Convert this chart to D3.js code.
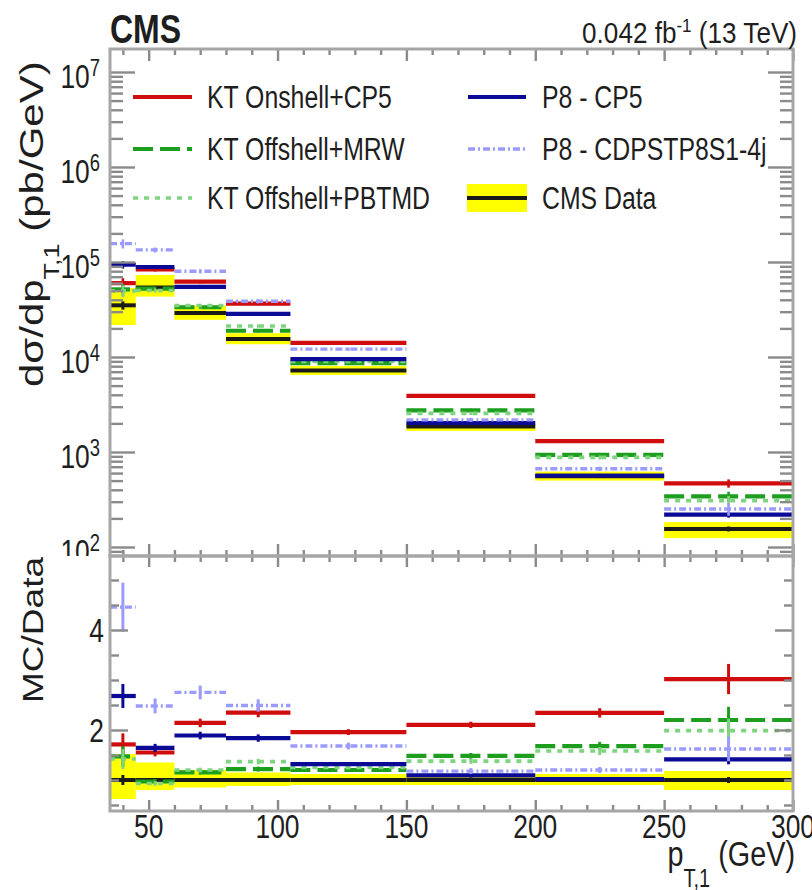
<!DOCTYPE html>
<html>
<head>
<meta charset="utf-8">
<title>Leading jet pT cross section</title>
<script src="https://cdn.jsdelivr.net/npm/d3@7/dist/d3.min.js"></script>
<style>
  html, body { margin: 0; padding: 0; background: #ffffff; }
  svg { display: block; }
  text { font-family: "Liberation Sans", Arial, Helvetica, sans-serif; fill: #1e1e1e; }
</style>
</head>
<body>
<div id="chart"></div>
<script>
// ---------------- bins and measurement ----------------
const binEdges    = [35, 45, 60, 80, 105, 150, 200, 250, 300];             // GeV
const dataXsec    = [3.5e4, 5.4e4, 2.9e4, 1.55e4, 7.2e3, 1.85e3, 555, 155]; // pb/GeV
const dataUncUp   = [0.52, 0.35, 0.20, 0.15, 0.12, 0.12, 0.12, 0.18];      // relative, total
const dataUncDown = [0.38, 0.20, 0.15, 0.12, 0.10, 0.10, 0.10, 0.20];
const dataStat    = [0.10, 0.04, 0.03, 0.03, 0.03, 0.03, 0.04, 0.06];      // relative, stat.

// ---------------- predictions (pb/GeV) ----------------
const ktOnshellCP5    = [5.99e4, 8.37e4, 6.21e4, 3.64e4, 1.41e4, 3.89e3, 1.30e3, 468];
const ktOffshellMRW   = [5.15e4, 5.24e4, 3.34e4, 1.89e4, 8.64e3, 2.74e3, 932, 341];
const ktOffshellPBTMD = [4.97e4, 5.02e4, 3.48e4, 2.12e4, 9.0e3, 2.55e3, 877, 308];
const p8CP5           = [9.38e4, 8.86e4, 5.48e4, 2.85e4, 9.5e3, 2.02e3, 566, 219];
const p8CDPS          = [1.56e5, 1.34e5, 7.98e4, 3.86e4, 1.21e4, 2.18e3, 666, 251];

// relative statistical uncertainties of the predictions
const errKtOnshellCP5    = [0.13, 0.05, 0.04, 0.04, 0.03, 0.03, 0.04, 0.10];
const errKtOffshellMRW   = [0.14, 0.05, 0.04, 0.04, 0.03, 0.04, 0.05, 0.12];
const errKtOffshellPBTMD = [0.14, 0.05, 0.04, 0.04, 0.03, 0.04, 0.05, 0.12];
const errP8CP5           = [0.09, 0.05, 0.04, 0.04, 0.03, 0.04, 0.04, 0.07];
const errP8CDPS          = [0.11, 0.06, 0.05, 0.05, 0.04, 0.05, 0.05, 0.15];

// ---------------- ticks and labels ----------------
const xTickLabels     = [50, 100, 150, 200, 250, 300];
const topExponents    = [2, 3, 4, 5, 6, 7];
const ratioTickLabels = [2, 4];
const legendLeft  = ["KT Onshell+CP5", "KT Offshell+MRW", "KT Offshell+PBTMD"];
const legendRight = ["P8 - CP5", "P8 - CDPSTP8S1-4j", "CMS Data"];

// ---------------- layout ----------------
const W = 812, H = 890;
const F = { left: 110, right: 793, top: 49, mid: 556, bottom: 811 };
const SX = 0.8;   // horizontal squeeze of the lettering

const svg = d3.select("#chart").append("svg").attr("width", W).attr("height", H);
const defs = svg.append("defs");
defs.append("clipPath").attr("id", "clipTop").append("rect")
  .attr("x", F.left).attr("y", F.top).attr("width", F.right - F.left).attr("height", F.mid - F.top);
defs.append("clipPath").attr("id", "clipRatio").append("rect")
  .attr("x", F.left).attr("y", F.mid).attr("width", F.right - F.left).attr("height", F.bottom - F.mid);
defs.append("clipPath").attr("id", "clipTopPad").append("rect")
  .attr("x", 0).attr("y", 0).attr("width", W).attr("height", F.mid);

const x = d3.scaleLinear().domain([35, 300]).range([F.left, F.right]);
const yTop = d3.scaleLog().domain([80.4, 1.746e7]).range([F.mid, F.top]);
const yRat = d3.scaleLinear().domain([0.38, 5.48]).range([F.bottom, F.mid]);

const bins = d3.range(dataXsec.length).map(i => ({ i, lo: binEdges[i], hi: binEdges[i + 1], c: (binEdges[i] + binEdges[i + 1]) / 2 }));

const series = [
  { name: legendLeft[0],  vals: ktOnshellCP5,    err: errKtOnshellCP5,    color: "#cf0d0d", dash: null,          w: 4.2 },
  { name: legendLeft[1],  vals: ktOffshellMRW,   err: errKtOffshellMRW,   color: "#1e9e1e", dash: "20,7",        w: 4.2 },
  { name: legendLeft[2],  vals: ktOffshellPBTMD, err: errKtOffshellPBTMD, color: "#7fd47f", dash: "5,6",         w: 3.6 },
  { name: legendRight[0], vals: p8CP5,           err: errP8CP5,           color: "#0a0a96", dash: null,          w: 4.2 },
  { name: legendRight[1], vals: p8CDPS,          err: errP8CDPS,          color: "#9a9aff", dash: "7,3,2,3",     w: 3.4 }
];

// ---------------- helpers ----------------
function hText(parent, px, py, size, anchor, opts = {}) {
  const g = parent.append("g").attr("transform", `translate(${px},${py}) scale(${opts.sx || SX},1)`);
  const t = g.append("text").attr("font-size", size).attr("text-anchor", anchor);
  if (opts.bold) t.attr("font-weight", "bold");
  return t;
}
function vText(parent, px, py, size, anchor) {
  const g = parent.append("g").attr("transform", `translate(${px},${py}) rotate(-90) scale(1,${SX})`);
  return g.append("text").attr("font-size", size).attr("text-anchor", anchor);
}
function styleAxis(sel, color, width) {
  sel.select(".domain").remove();
  sel.selectAll(".tick line").attr("stroke", color).attr("stroke-width", width);
  sel.selectAll(".tick text").remove();
}

// ---------------- top panel: cross sections ----------------
const topData = svg.append("g").attr("clip-path", "url(#clipTop)");

// data uncertainty band
topData.selectAll("rect.band").data(bins).join("rect").attr("class", "band")
  .attr("x", d => x(d.lo)).attr("width", d => x(d.hi) - x(d.lo))
  .attr("y", d => yTop(dataXsec[d.i] * (1 + dataUncUp[d.i])))
  .attr("height", d => yTop(dataXsec[d.i] * (1 - dataUncDown[d.i])) - yTop(dataXsec[d.i] * (1 + dataUncUp[d.i])))
  .attr("fill", "#ffff00");
topData.selectAll("line.dataH").data(bins).join("line").attr("class", "dataH")
  .attr("x1", d => x(d.lo)).attr("x2", d => x(d.hi))
  .attr("y1", d => yTop(dataXsec[d.i])).attr("y2", d => yTop(dataXsec[d.i]))
  .attr("stroke", "#1a1a1a").attr("stroke-width", 4);
topData.selectAll("line.dataV").data(bins).join("line").attr("class", "dataV")
  .attr("x1", d => x(d.c)).attr("x2", d => x(d.c))
  .attr("y1", d => yTop(dataXsec[d.i] * (1 + dataStat[d.i]))).attr("y2", d => yTop(dataXsec[d.i] * (1 - dataStat[d.i])))
  .attr("stroke", "#1a1a1a").attr("stroke-width", 3);

series.forEach(s => {
  const g = topData.append("g");
  g.selectAll("line.h").data(bins).join("line").attr("class", "h")
    .attr("x1", d => x(d.lo)).attr("x2", d => x(d.hi))
    .attr("y1", d => yTop(s.vals[d.i])).attr("y2", d => yTop(s.vals[d.i]))
    .attr("stroke", s.color).attr("stroke-width", s.w)
    .attr("stroke-dasharray", s.dash);
  g.selectAll("line.v").data(bins).join("line").attr("class", "v")
    .attr("x1", d => x(d.c)).attr("x2", d => x(d.c))
    .attr("y1", d => yTop(s.vals[d.i] * (1 + s.err[d.i]))).attr("y2", d => yTop(s.vals[d.i] * (1 - s.err[d.i])))
    .attr("stroke", s.color).attr("stroke-width", 2.6);
});

// ---------------- bottom panel: MC / Data ----------------
const ratData = svg.append("g").attr("clip-path", "url(#clipRatio)");
ratData.selectAll("rect.band").data(bins).join("rect").attr("class", "band")
  .attr("x", d => x(d.lo)).attr("width", d => x(d.hi) - x(d.lo))
  .attr("y", d => yRat(1 + dataUncUp[d.i]))
  .attr("height", d => yRat(1 - dataUncDown[d.i]) - yRat(1 + dataUncUp[d.i]))
  .attr("fill", "#ffff00");
ratData.selectAll("line.dataH").data(bins).join("line").attr("class", "dataH")
  .attr("x1", d => x(d.lo)).attr("x2", d => x(d.hi))
  .attr("y1", yRat(1)).attr("y2", yRat(1))
  .attr("stroke", "#1a1a1a").attr("stroke-width", 4);
ratData.selectAll("line.dataV").data(bins).join("line").attr("class", "dataV")
  .attr("x1", d => x(d.c)).attr("x2", d => x(d.c))
  .attr("y1", d => yRat(1 + dataStat[d.i])).attr("y2", d => yRat(1 - dataStat[d.i]))
  .attr("stroke", "#1a1a1a").attr("stroke-width", 3);

series.forEach(s => {
  const g = ratData.append("g");
  const r = i => s.vals[i] / dataXsec[i];
  g.selectAll("line.h").data(bins).join("line").attr("class", "h")
    .attr("x1", d => x(d.lo)).attr("x2", d => x(d.hi))
    .attr("y1", d => yRat(r(d.i))).attr("y2", d => yRat(r(d.i)))
    .attr("stroke", s.color).attr("stroke-width", s.w)
    .attr("stroke-dasharray", s.dash);
  g.selectAll("line.v").data(bins).join("line").attr("class", "v")
    .attr("x1", d => x(d.c)).attr("x2", d => x(d.c))
    .attr("y1", d => yRat(r(d.i) * (1 + s.err[d.i]))).attr("y2", d => yRat(r(d.i) * (1 - s.err[d.i])))
    .attr("stroke", s.color).attr("stroke-width", 3);
});

// ---------------- axes (ticks on all four sides) ----------------
const tickColor = "#8a8a8a", tickW = 2.4;
const xMajor = xTickLabels;
const xMinor = d3.range(40, 300, 10).filter(v => v % 50 !== 0);
const topMajor = topExponents.map(e => Math.pow(10, e));
const topMinor = [];
for (let e = 1; e <= 7; e++) for (let m = 2; m <= 9; m++) {
  const v = m * Math.pow(10, e);
  if (v > yTop.domain()[0] && v < yTop.domain()[1]) topMinor.push(v);
}
const ratMajor = ratioTickLabels;
const ratMinor = d3.range(0.5, 5.5, 0.5).filter(v => v !== 2 && v !== 4);

function ticks(axisFn, scale, values, size, tx, ty) {
  const g = svg.append("g").attr("transform", `translate(${tx},${ty})`)
    .call(axisFn(scale).tickValues(values).tickSizeInner(-size).tickSizeOuter(0).tickFormat(""));
  styleAxis(g, tickColor, tickW);
}
// top panel
ticks(d3.axisLeft, yTop, topMajor, 25, F.left, 0);
ticks(d3.axisLeft, yTop, topMinor, 13, F.left, 0);
ticks(d3.axisRight, yTop, topMajor, 25, F.right, 0);
ticks(d3.axisRight, yTop, topMinor, 13, F.right, 0);
ticks(d3.axisTop, x, xMajor, 12, 0, F.top);
ticks(d3.axisTop, x, xMinor, 6, 0, F.top);
ticks(d3.axisBottom, x, xMajor, 12, 0, F.mid);
ticks(d3.axisBottom, x, xMinor, 6, 0, F.mid);
// ratio panel
ticks(d3.axisLeft, yRat, ratMajor, 18, F.left, 0);
ticks(d3.axisLeft, yRat, ratMinor, 9, F.left, 0);
ticks(d3.axisRight, yRat, ratMajor, 18, F.right, 0);
ticks(d3.axisRight, yRat, ratMinor, 9, F.right, 0);
ticks(d3.axisTop, x, xMajor, 11, 0, F.mid);
ticks(d3.axisTop, x, xMinor, 6, 0, F.mid);
ticks(d3.axisBottom, x, xMajor, 11, 0, F.bottom);
ticks(d3.axisBottom, x, xMinor, 6, 0, F.bottom);

// frames
[[F.top, F.mid], [F.mid, F.bottom]].forEach(([t, b]) => {
  svg.append("rect").attr("x", F.left).attr("y", t).attr("width", F.right - F.left).attr("height", b - t)
    .attr("fill", "none").attr("stroke", "#a6a6a6").attr("stroke-width", 3);
});

// ---------------- tick labels ----------------
const topPadLabels = svg.append("g").attr("clip-path", "url(#clipTopPad)");
topExponents.forEach(e => {
  const yy = yTop(Math.pow(10, e));
  const t = hText(topPadLabels, 100, yy + 16, 33, "end");
  t.append("tspan").text("10");
  t.append("tspan").attr("font-size", 23).attr("dy", -12).text(e);
});
ratioTickLabels.forEach(v => {
  hText(svg, 104, yRat(v) + 12, 33, "end").text(v);
});
xTickLabels.forEach(v => {
  hText(svg, x(v), 838, 33, "middle").text(v);
});

// ---------------- axis titles ----------------
{
  const t = vText(svg, 43, 387, 42, "start");
  t.append("tspan").text("dσ/dp");
  t.append("tspan").attr("font-size", 27).attr("dy", 20).text("T,1");
  t.append("tspan").attr("dy", -20).text(" (pb/GeV)");
}
vText(svg, 43, 557, 37, "end").text("MC/Data");
{
  const t = hText(svg, 795, 866, 36, "end");
  t.append("tspan").text("p");
  t.append("tspan").attr("font-size", 25).attr("dy", 21).text("T,1");
  t.append("tspan").attr("dy", -21).text(" (GeV)");
}

// ---------------- header ----------------
hText(svg, 110, 43, 40, "start", { bold: true }).text("CMS");
{
  const t = hText(svg, 797, 43, 29, "end", { sx: 0.9 });
  t.append("tspan").text("0.042 fb");
  t.append("tspan").attr("font-size", 19).attr("dy", -11).text("-1");
  t.append("tspan").attr("dy", 11).text(" (13 TeV)");
}

// ---------------- legend ----------------
const legRows = [97, 149, 198];
const leg = svg.append("g");
series.forEach((s, k) => {
  const col = k < 3 ? 0 : 1;
  const row = col === 0 ? k : k - 3;
  const x0 = col === 0 ? 133 : 468, x1 = col === 0 ? 192 : 526, tx = col === 0 ? 207 : 542;
  leg.append("line").attr("x1", x0).attr("x2", x1).attr("y1", legRows[row]).attr("y2", legRows[row])
    .attr("stroke", s.color).attr("stroke-width", s.w).attr("stroke-dasharray", s.dash);
  hText(leg, tx, legRows[row] + 11, 31, "start").text(s.name);
});
leg.append("rect").attr("x", 467).attr("y", 184).attr("width", 60).attr("height", 28).attr("fill", "#ffff00");
leg.append("line").attr("x1", 467).attr("x2", 527).attr("y1", legRows[2]).attr("y2", legRows[2])
  .attr("stroke", "#1a1a1a").attr("stroke-width", 4);
hText(leg, 542, legRows[2] + 11, 31, "start").text(legendRight[2]);
</script>
</body>
</html>
